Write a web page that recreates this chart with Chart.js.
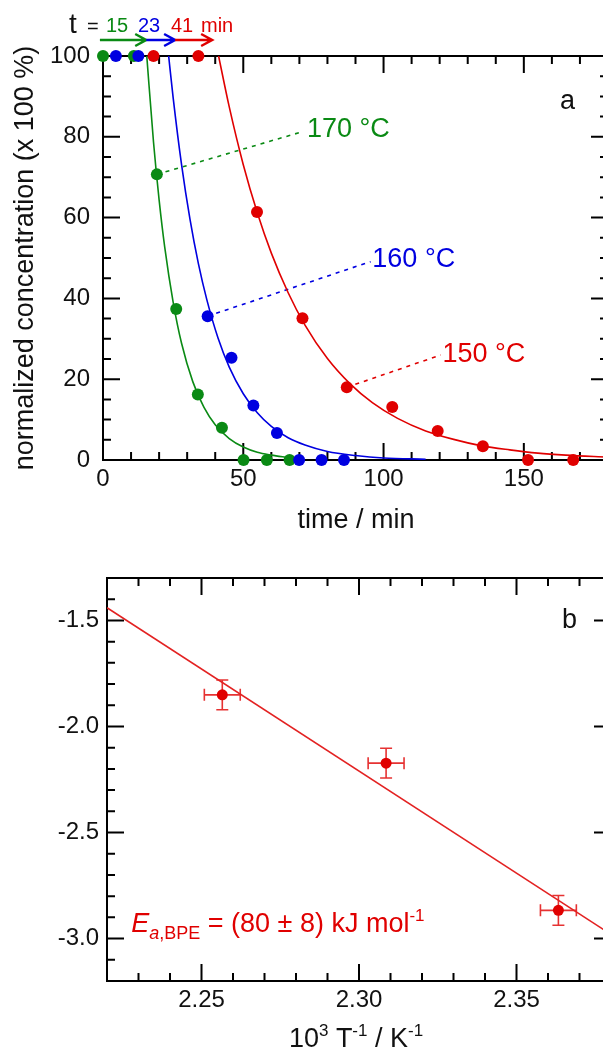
<!DOCTYPE html>
<html>
<head>
<meta charset="utf-8">
<script src="https://cdn.jsdelivr.net/npm/chart.js@4.4.1/dist/chart.umd.min.js"></script>
<style>
  html, body { margin: 0; padding: 0; background: #fff; overflow: hidden; width: 603px; height: 1052px; }
  #top { position: absolute; left: 0; top: 0; width: 620px; height: 540px; }
  #bottom { position: absolute; left: 0; top: 540px; width: 620px; height: 512px; }
</style>
</head>
<body>
<div id="top"><canvas id="kinetics"></canvas></div>
<div id="bottom"><canvas id="arrhenius"></canvas></div>
<script>
// ---- panel a: normalized concentration vs time ----
const t170 = [0, 11, 19.2, 26.1, 33.8, 42.4, 50.1, 58.4, 66.5];
const c170 = [100, 100, 70.7, 37.4, 16.2, 8.0, 0, 0, 0];
const t160 = [4.6, 12.6, 37.3, 45.8, 53.6, 62.0, 69.9, 77.9, 85.9];
const c160 = [100, 100, 35.6, 25.3, 13.5, 6.7, 0, 0, 0];
const t150 = [18, 34, 54.9, 71.1, 86.9, 103.1, 119.3, 135.4, 151.5, 167.6];
const c150 = [100, 100, 61.4, 35.1, 18.0, 13.1, 7.2, 3.4, 0, 0];

// fitted curves
const fitT170 = [15.6, 18, 20, 22, 25, 28, 32, 36, 40, 45, 50, 55, 60, 66];
const fitC170 = [100, 78.7, 64.4, 52.7, 39.1, 28.9, 19.4, 13.0, 8.7, 5.3, 3.2, 1.9, 1.2, 0.6];
const fitT160 = [23.4, 25, 28, 31, 34, 37, 41, 45, 50, 55, 60, 66, 72, 80, 90, 100, 115];
const fitC160 = [100, 89.7, 73.1, 59.6, 48.6, 39.7, 30.2, 23.0, 16.4, 11.7, 8.3, 5.5, 3.7, 2.1, 1.1, 0.5, 0.2];
const fitT150 = [41.2, 45, 50, 55, 60, 66, 72, 80, 88, 96, 105, 115, 125, 135, 145, 155, 165, 180];
const fitC150 = [100, 87.4, 73.1, 61.2, 51.2, 41.4, 33.4, 25.1, 18.9, 14.2, 10.3, 7.2, 5.1, 3.5, 2.5, 1.7, 1.2, 0.7];

const timeTicks = [0, 50, 100, 150];
const concTicks = [0, 20, 40, 60, 80, 100];
const tempLabels = ['170 °C', '160 °C', '150 °C'];
const onsetLabels = ['15', '23', '41'];
const onsetArrowEnds = [15.4, 25.7, 38.9];

// ---- panel b: Arrhenius plot ----
const invT = [2.2566, 2.3086, 2.3633];
const lnK = [-1.851, -2.173, -2.867];
const invTErr = [0.0057, 0.0057, 0.0057];
const lnKErr = [0.07, 0.07, 0.07];
const fitInvT = [2.22, 2.38];
const fitLnK = [-1.44, -2.98];
const invTTicks = [2.25, 2.30, 2.35];
const lnKTicks = [-3.0, -2.5, -2.0, -1.5];

const FONT = "'Liberation Sans', Arial, sans-serif";
const GREEN = '#0a8a14';
const BLUE = '#0000e0';
const RED = '#e00000';
const INK = '#111';

function pts(xs, ys) { return xs.map((v, i) => ({ x: v, y: ys[i] })); }

// draws runs of text with different size/style/offset
function rich(ctx, parts, x, y, align) {
  let w = 0;
  parts.forEach(p => {
    ctx.font = (p.italic ? 'italic ' : '') + p.size + 'px ' + FONT;
    p.w = ctx.measureText(p.t).width;
    w += p.w;
  });
  let cx = align === 'center' ? x - w / 2 : x;
  parts.forEach(p => {
    ctx.font = (p.italic ? 'italic ' : '') + p.size + 'px ' + FONT;
    ctx.fillText(p.t, cx, y + (p.dy || 0));
    cx += p.w;
  });
}

// box round the plot with inward ticks on all four sides
function drawFrame(chart, xMinor, xMajor, yMinor, yMajor) {
  const { ctx, chartArea: a, scales: { x, y } } = chart;
  ctx.save();
  ctx.strokeStyle = '#000';
  ctx.lineWidth = 2;
  ctx.strokeRect(a.left, a.top, a.right - a.left, a.bottom - a.top);
  ctx.beginPath();
  const isMajor = (v, m) => Math.abs(v / m - Math.round(v / m)) < 1e-6;
  for (let v = Math.ceil(x.min / xMinor - 1e-6) * xMinor; v <= x.max + 1e-9; v += xMinor) {
    const px = x.getPixelForValue(v);
    const len = isMajor(v, xMajor) ? 17 : 8;
    ctx.moveTo(px, a.bottom); ctx.lineTo(px, a.bottom - len);
    ctx.moveTo(px, a.top); ctx.lineTo(px, a.top + len);
  }
  for (let v = Math.ceil(y.min / yMinor - 1e-6) * yMinor; v <= y.max + 1e-9; v += yMinor) {
    const py = y.getPixelForValue(v);
    const len = isMajor(v, yMajor) ? 17 : 8;
    ctx.moveTo(a.left, py); ctx.lineTo(a.left + len, py);
    ctx.moveTo(a.right, py); ctx.lineTo(a.right - len, py);
  }
  ctx.stroke();
  ctx.restore();
}

function axisFont() { return { family: FONT, size: 24 }; }

// ---------- chart a ----------
const kineticsDecor = {
  id: 'kineticsDecor',
  beforeDatasetsDraw(chart) { drawFrame(chart, 10, 50, 5, 20); },
  afterDraw(chart) {
    const { ctx, chartArea: a, scales: { x, y } } = chart;
    ctx.save();
    ctx.textBaseline = 'alphabetic';
    // temperature labels
    const colors = [GREEN, BLUE, RED];
    const anchors = [[72.7, 81.7], [96, 49.5], [121, 26]];
    ctx.font = '27px ' + FONT;
    ctx.textBaseline = 'middle';
    tempLabels.forEach((s, i) => {
      ctx.fillStyle = colors[i];
      ctx.fillText(s, x.getPixelForValue(anchors[i][0]), y.getPixelForValue(anchors[i][1]));
    });
    ctx.fillStyle = INK;
    ctx.fillText('a', 560, 102);

    // onset arrows above the plot
    const ay = a.top - 16;
    let start = x.getPixelForValue(-1.1);
    ctx.lineWidth = 2.5;
    onsetArrowEnds.forEach((t, i) => {
      const end = x.getPixelForValue(t);
      ctx.strokeStyle = colors[i];
      ctx.beginPath();
      ctx.moveTo(start, ay); ctx.lineTo(end, ay);
      ctx.moveTo(end - 11, ay - 6); ctx.lineTo(end, ay); ctx.lineTo(end - 11, ay + 6);
      ctx.stroke();
      start = end;
    });
    ctx.textBaseline = 'alphabetic';
    ctx.fillStyle = INK;
    ctx.font = '28px ' + FONT;
    ctx.fillText('t', 69, 33);
    ctx.font = '20px ' + FONT;
    ctx.fillText('=', 87, 33);
    const numX = [106, 138, 171];
    onsetLabels.forEach((s, i) => {
      ctx.fillStyle = colors[i];
      ctx.fillText(s, numX[i], 32);
    });
    ctx.fillStyle = RED;
    ctx.fillText('min', 201, 32);

    // axis titles
    ctx.fillStyle = INK;
    ctx.font = '27px ' + FONT;
    ctx.textAlign = 'center';
    ctx.fillText('time / min', (a.left + 603) / 2 + 3, 528);
    ctx.save();
    ctx.translate(33, (a.top + a.bottom) / 2);
    ctx.rotate(-Math.PI / 2);
    ctx.fillText('normalized concentration (x 100 %)', 0, 0);
    ctx.restore();
    ctx.restore();
  }
};

function pointSet(xs, ys, color) {
  return { data: pts(xs, ys), showLine: false, pointRadius: 6, pointBorderWidth: 0,
           pointBackgroundColor: color, clip: false };
}
function fitSet(xs, ys, color) {
  return { data: pts(xs, ys), borderColor: color, borderWidth: 1.6, pointRadius: 0,
           cubicInterpolationMode: 'monotone' };
}
function leaderSet(from, to, color) {
  return { data: [from, to], borderColor: color, borderWidth: 1.6, borderDash: [4, 5],
           pointRadius: 0 };
}

new Chart(document.getElementById('kinetics'), {
  type: 'line',
  data: {
    datasets: [
      pointSet(t150, c150, RED),
      pointSet(t160, c160, BLUE),
      pointSet(t170, c170, GREEN),
      fitSet(fitT170, fitC170, GREEN),
      fitSet(fitT160, fitC160, BLUE),
      fitSet(fitT150, fitC150, RED),
      leaderSet({ x: t170[2], y: c170[2] }, { x: 69.8, y: 81.0 }, GREEN),
      leaderSet({ x: t160[2], y: c160[2] }, { x: 95.4, y: 49.1 }, BLUE),
      leaderSet({ x: t150[4], y: c150[4] }, { x: 120.4, y: 26.0 }, RED)
    ]
  },
  options: {
    responsive: true, maintainAspectRatio: false, animation: false,
    layout: { padding: { top: 56, right: 12, left: 0, bottom: 0 } },
    plugins: { legend: { display: false }, tooltip: { enabled: false } },
    scales: {
      x: {
        type: 'linear', min: 0, max: 180,
        grid: { display: false, drawTicks: false }, border: { display: false },
        afterBuildTicks: s => { s.ticks = timeTicks.map(v => ({ value: v })); },
        afterFit: s => { s.height = 80; },
        ticks: { padding: 5, font: axisFont(), color: INK, maxRotation: 0, autoSkip: false }
      },
      y: {
        type: 'linear', min: 0, max: 100,
        grid: { display: false, drawTicks: false }, border: { display: false },
        afterBuildTicks: s => { s.ticks = concTicks.map(v => ({ value: v })); },
        afterFit: s => { s.width = 103; },
        ticks: { padding: 13, font: axisFont(), color: INK, autoSkip: false }
      }
    }
  },
  plugins: [kineticsDecor]
});

// ---------- chart b ----------
const arrheniusDecor = {
  id: 'arrheniusDecor',
  beforeDatasetsDraw(chart) {
    drawFrame(chart, 0.01, 0.05, 0.1, 0.5);
    const { ctx, scales: { x, y } } = chart;
    ctx.save();
    ctx.strokeStyle = '#e63232';
    ctx.lineWidth = 1.6;
    ctx.beginPath();
    invT.forEach((v, i) => {
      const px = x.getPixelForValue(v), py = y.getPixelForValue(lnK[i]);
      const x0 = x.getPixelForValue(v - invTErr[i]), x1 = x.getPixelForValue(v + invTErr[i]);
      const y0 = y.getPixelForValue(lnK[i] - lnKErr[i]), y1 = y.getPixelForValue(lnK[i] + lnKErr[i]);
      ctx.moveTo(x0, py); ctx.lineTo(x1, py);
      ctx.moveTo(x0, py - 6); ctx.lineTo(x0, py + 6);
      ctx.moveTo(x1, py - 6); ctx.lineTo(x1, py + 6);
      ctx.moveTo(px, y0); ctx.lineTo(px, y1);
      ctx.moveTo(px - 6, y0); ctx.lineTo(px + 6, y0);
      ctx.moveTo(px - 6, y1); ctx.lineTo(px + 6, y1);
    });
    ctx.stroke();
    ctx.restore();
  },
  afterDraw(chart) {
    const { ctx, chartArea: a, scales: { x, y } } = chart;
    ctx.save();
    ctx.textBaseline = 'alphabetic';
    ctx.fillStyle = RED;
    rich(ctx, [
      { t: 'E', size: 27, italic: true },
      { t: 'a', size: 18, italic: true, dy: 7 },
      { t: ',BPE', size: 18, dy: 7 },
      { t: ' = (80 ± 8) kJ mol', size: 27 },
      { t: '-1', size: 17, dy: -11 }
    ], x.getPixelForValue(2.2277), y.getPixelForValue(-2.969), 'left');

    ctx.fillStyle = INK;
    ctx.font = '27px ' + FONT;
    ctx.textBaseline = 'middle';
    ctx.fillText('b', 562, y.getPixelForValue(-1.5));
    ctx.textBaseline = 'alphabetic';

    rich(ctx, [
      { t: '10', size: 27 },
      { t: '3', size: 17, dy: -11 },
      { t: ' T', size: 27 },
      { t: '-1', size: 17, dy: -11 },
      { t: ' / K', size: 27 },
      { t: '-1', size: 17, dy: -11 }
    ], 356, 507, 'center');

    ctx.save();
    ctx.translate(31, 796);
    ctx.rotate(-Math.PI / 2);
    rich(ctx, [
      { t: 'ln(', size: 27 },
      { t: 'k', size: 27, italic: true },
      { t: '1,obs', size: 18, dy: 7 },
      { t: ' / m', size: 27 },
      { t: 'cat.', size: 18, dy: 7 },
      { t: ')', size: 27 }
    ], 0, 0, 'center');
    ctx.restore();
    ctx.restore();
  }
};

new Chart(document.getElementById('arrhenius'), {
  type: 'line',
  data: {
    datasets: [
      { data: pts(invT, lnK), showLine: false, pointRadius: 5.5, pointBorderWidth: 0,
        pointBackgroundColor: RED, clip: false },
      { data: pts(fitInvT, fitLnK), borderColor: '#e32222', borderWidth: 1.6, pointRadius: 0 }
    ]
  },
  options: {
    responsive: true, maintainAspectRatio: false, animation: false,
    layout: { padding: { top: 38, right: 9, left: 0, bottom: 0 } },
    plugins: { legend: { display: false }, tooltip: { enabled: false } },
    scales: {
      x: {
        type: 'linear', min: 2.22, max: 2.38,
        grid: { display: false, drawTicks: false }, border: { display: false },
        afterBuildTicks: s => { s.ticks = invTTicks.map(v => ({ value: v })); },
        afterFit: s => { s.height = 71; },
        ticks: { padding: 5, font: axisFont(), color: INK, maxRotation: 0, autoSkip: false,
                 callback: v => v.toFixed(2) }
      },
      y: {
        type: 'linear', min: -3.2, max: -1.3,
        grid: { display: false, drawTicks: false }, border: { display: false },
        afterBuildTicks: s => { s.ticks = lnKTicks.map(v => ({ value: v })); },
        afterFit: s => { s.width = 107; },
        ticks: { padding: 8, font: axisFont(), color: INK, autoSkip: false,
                 callback: v => v.toFixed(1) }
      }
    }
  },
  plugins: [arrheniusDecor]
});
</script>
</body>
</html>
